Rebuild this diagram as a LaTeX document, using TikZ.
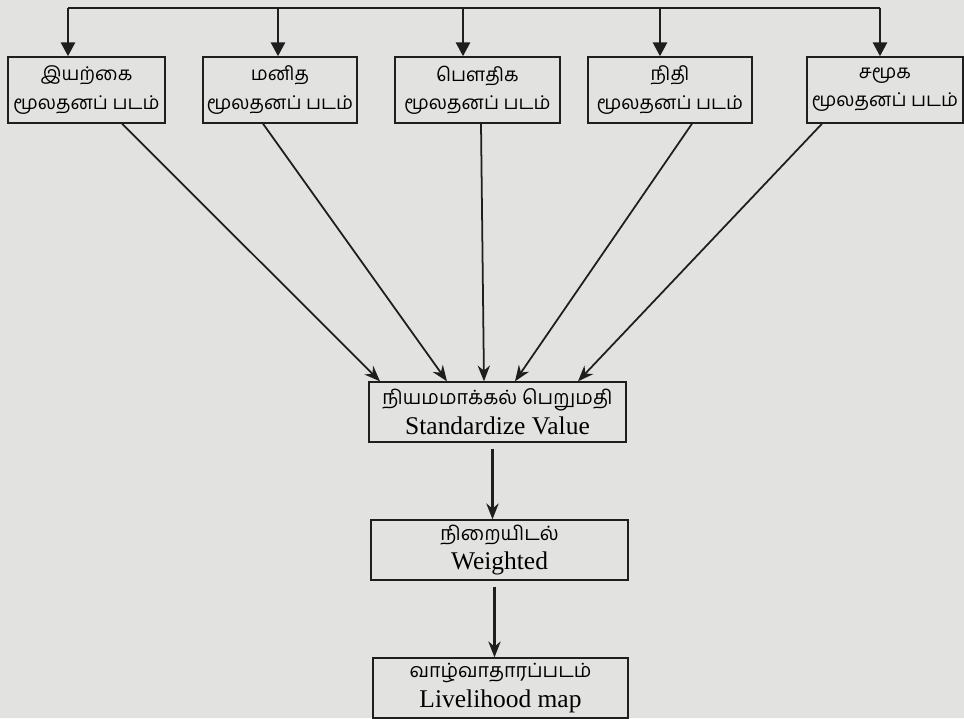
\documentclass[tikz,border=0pt]{standalone}
\usepackage{fontspec}
\setmainfont{Liberation Serif}
\newfontfamily\tamil[Script=Tamil]{Hind Madurai}
\usetikzlibrary{positioning,arrows.meta,calc}
\definecolor{paper}{RGB}{226,226,224}
\definecolor{ink}{RGB}{30,30,30}

\begin{document}
\begin{tikzpicture}[x=0.02cm,y=-0.02cm,
  every node/.style={draw=ink,line width=0.8pt,align=center,inner sep=0pt},
  capbox/.style={minimum height=1.32cm,font=\tamil\fontsize{10.8}{16}\selectfont},
  stepbox/.style={minimum width=5.14cm,minimum height=1.2cm,font=\fontsize{14.5}{17}\selectfont},
  tam/.style={font=\tamil\fontsize{11}{14}\selectfont},
  bus/.style={ink,line width=1.6pt},
  feed/.style={ink,line width=1.6pt,-{Triangle[length=8pt,width=8pt]}},
  flow/.style={ink,line width=1pt,-{Stealth[length=9pt,width=7pt]}}]

\fill[paper] (0,0) rectangle (964,718);
\useasboundingbox (0,0) rectangle (964,718);

% capital maps
\node [capbox,minimum width=3.14cm] (nat) at (86.5,90) {இயற்கை\\மூலதனப் படம்};
\node [capbox,minimum width=3.08cm] (hum) at (280,90) {மனித\\மூலதனப் படம்};
\node [capbox,minimum width=3.3cm] (phy) at (477.5,90) {பௌதிக\\மூலதனப் படம்};
\node [capbox,minimum width=3.28cm] (fin) at (670,90) {நிதி\\மூலதனப் படம்};
\node [capbox,minimum width=3.12cm] (soc) at (885,90) {சமூக\\மூலதனப் படம்};

% steps
\node [stepbox] (std) at (497.5,412) {{\tamil\fontsize{11.2}{14}\selectfont நியமமாக்கல் பெறுமதி}\\Standardize Value};
\node [stepbox] (wgt) at (499.5,550) {{\tamil\fontsize{11.2}{14}\selectfont நிறையிடல்}\\Weighted};
\node [stepbox,minimum width=5.1cm] (map) at (500.5,688) {{\tamil\fontsize{11.2}{14}\selectfont வாழ்வாதாரப்படம்}\\Livelihood map};

% top bus
\coordinate (b1) at (68,8);
\coordinate (b2) at (278,8);
\coordinate (b3) at (463,8);
\coordinate (b4) at (660,8);
\coordinate (b5) at (880,8);
\draw [bus] (b1) -- (b5);
\draw [feed] (b1) -- (b1 |- nat.north);
\draw [feed] (b2) -- (b2 |- hum.north);
\draw [feed] (b3) -- (b3 |- phy.north);
\draw [feed] (b4) -- (b4 |- fin.north);
\draw [feed] (b5) -- (b5 |- soc.north);

% into standardize
\draw [flow] ($(nat.south)+(35.5,0)$) -- ($(std.north)+(-117.5,0)$);
\draw [flow] ($(hum.south)+(-17,0)$) -- ($(std.north)+(-50.5,0)$);
\draw [flow] ($(phy.south)+(3.5,0)$) -- ($(std.north)+(-13.5,0)$);
\draw [flow] ($(fin.south)+(22,0)$) -- ($(std.north)+(17.5,0)$);
\draw [flow] ($(soc.south)+(-63,0)$) -- ($(std.north)+(80.5,0)$);

\draw [flow,line width=1.3pt] (std.south) ++(-5,6) coordinate (s1) (s1) -- (s1 |- wgt.north);
\draw [flow,line width=1.3pt] (wgt.south) ++(-5,6) coordinate (w1) (w1) -- (w1 |- map.north);
\end{tikzpicture}
\end{document}
